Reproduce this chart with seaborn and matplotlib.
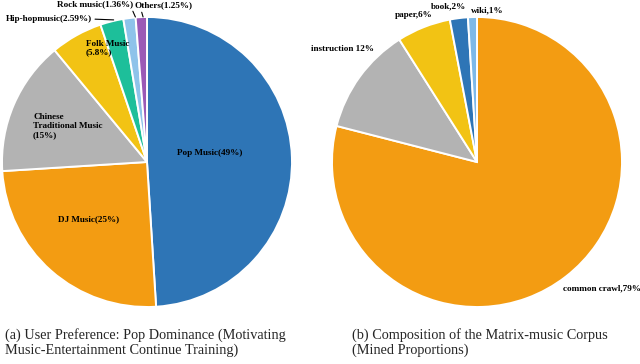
import matplotlib
matplotlib.use("Agg")
import matplotlib.pyplot as plt
import seaborn as sns

# (a) user preference
pref_labels = ["Pop Music(49%)", "DJ Music(25%)", "Chinese\nTraditional Music\n(15%)",
               "Folk Music\n(5.8%)", "Hip-hopmusic(2.59%)", "Rock music(1.36%)", "Others(1.25%)"]
pref_values = [49, 25, 15, 5.8, 2.59, 1.36, 1.25]
pref_colors = ["#2E75B6", "#F39C12", "#B3B3B3", "#F2C314", "#1DBF9A", "#8EC3EA", "#9B59B6"]

# (b) corpus composition
corp_labels = ["common crawl,79%", "instruction 12%", "paper,6%", "book,2%", "wiki,1%"]
corp_values = [79, 12, 6, 2, 1]
corp_colors = ["#F39C12", "#B3B3B3", "#F2C314", "#2E75B6", "#7EB9E8"]

captions = ["(a) User Preference: Pop Dominance (Motivating\nMusic-Entertainment Continue Training)",
            "(b) Composition of the Matrix-music Corpus\n(Mined Proportions)"]

sns.set_theme(style="white")
plt.rcParams["font.family"] = ["Liberation Serif", "DejaVu Serif"]

W, H = 640, 364
fig = plt.figure(figsize=(W / 100, H / 100), dpi=100)


def pie_axes(cx, cy, r):
    return fig.add_axes([(cx - r) / W, (H - cy - r) / H, 2 * r / W, 2 * r / H])


lbl = dict(fontsize=6.6, fontweight="bold", color="black")
lead = dict(arrowstyle="-", color="black", lw=0.8, shrinkA=0, shrinkB=0)

# ---- left pie
ax1 = pie_axes(147, 162, 145)
ax1.pie(pref_values, colors=pref_colors, startangle=90, counterclock=False,
        wedgeprops=dict(edgecolor="white", linewidth=1.4))
ax1.set_xlim(-1, 1)
ax1.set_ylim(-1, 1)
ax1.axis("off")
ax1.text(0.434, 0.062, pref_labels[0], ha="center", va="center", **lbl)
ax1.text(-0.40, -0.393, pref_labels[1], ha="center", va="center", **lbl)
ax1.text(-0.786, 0.248, pref_labels[2], ha="left", va="center", linespacing=1.15, **lbl)
ax1.text(-0.42, 0.786, pref_labels[3], ha="left", va="center", linespacing=1.15, **lbl)
ax1.annotate(pref_labels[4], xy=(-0.23, 0.98), xytext=(-0.975, 0.986), ha="left", va="center",
             annotation_clip=False, arrowprops=dict(lead, relpos=(1.0, 0.5)), **lbl)
ax1.annotate(pref_labels[5], xy=(-0.08, 1.0), xytext=(-0.359, 1.09), ha="center", va="center",
             annotation_clip=False, arrowprops=dict(lead, relpos=(0.97, 0.2)), **lbl)
ax1.annotate(pref_labels[6], xy=(-0.027, 1.0), xytext=(0.117, 1.083), ha="center", va="center",
             annotation_clip=False, arrowprops=dict(lead, relpos=(0.1, 0.0)), **lbl)

# ---- right pie
ax2 = pie_axes(477, 162, 145)
ax2.pie(corp_values, colors=corp_colors, startangle=90, counterclock=False,
        wedgeprops=dict(edgecolor="white", linewidth=1.4))
ax2.set_xlim(-1, 1)
ax2.set_ylim(-1, 1)
ax2.axis("off")
corp_pos = [(0.862, -0.869), (-0.931, 0.779), (-0.434, 1.014), (-0.193, 1.076), (0.069, 1.048)]
for name, (x, y) in zip(corp_labels, corp_pos):
    ax2.text(x, y, name, ha="center", va="center", clip_on=False, **lbl)

# ---- captions
fig.text(5 / W, 1 - 343 / H, captions[0], ha="left", va="center", fontsize=10.3, linespacing=1.15)
fig.text(352 / W, 1 - 343 / H, captions[1], ha="left", va="center", fontsize=10.3, linespacing=1.15)

fig.savefig("out.png", dpi=100, facecolor="white")
